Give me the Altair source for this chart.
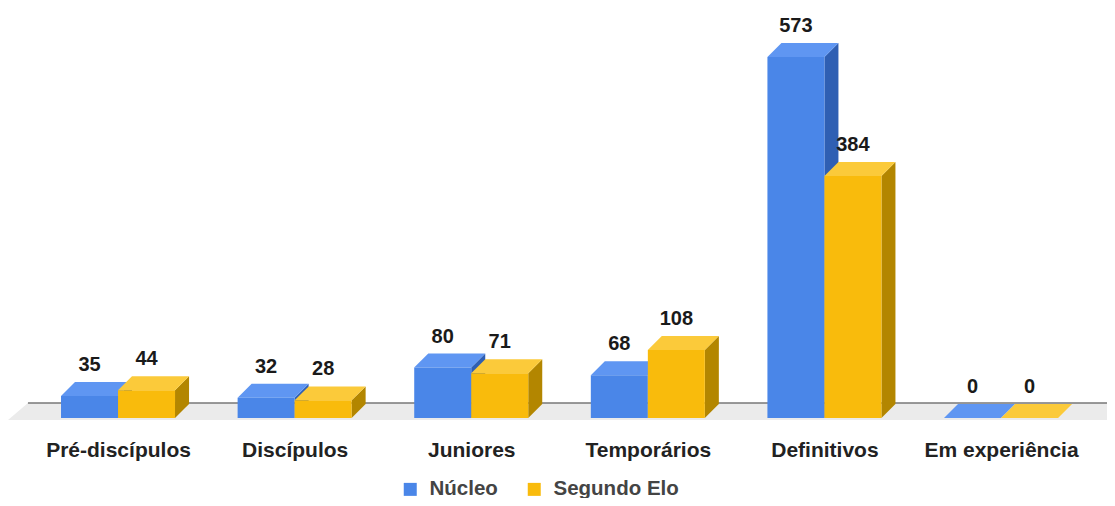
import json
import altair as alt
import pandas as pd

# ---------------- data ----------------
categories = ["Pré-discípulos", "Discípulos", "Juniores", "Temporários", "Definitivos", "Em experiência"]
series = ["Núcleo", "Segundo Elo"]
nucleo = [35, 32, 80, 68, 573, 0]
segundo = [44, 28, 71, 108, 384, 0]

# ---------------- style ----------------
FRONT = {"Núcleo": "#4a86e8", "Segundo Elo": "#f9bb0c"}
TOP = {"Núcleo": "#5f96f2", "Segundo Elo": "#fbca3a"}
SIDE = {"Núcleo": "#2f5fb3", "Segundo Elo": "#b38600"}
FONT = "Liberation Sans"

W, H = 1099, 425
X_DOMAIN = [-0.623, 5.600]
Y_DOMAIN = [-23.8, 650.8]
BAR_W = 0.3228      # width of a single bar (x units)
DX = 0.0793         # depth, horizontal (x units)
DY = 22.2           # depth, vertical (y units)

# ---------------- geometry built from data ----------------
front_rows, top_rows, side_rows = [], [], []
for s_idx, (sname, vals) in enumerate(zip(series, [nucleo, segundo])):
    for i, v in enumerate(vals):
        x0 = i - BAR_W if s_idx == 0 else i
        x1 = x0 + BAR_W
        bid = f"{sname}-{i}"
        front_rows.append({"series": sname, "cat": categories[i], "x0": x0, "x1": x1,
                           "xc": (x0 + x1) / 2, "v": v, "vt": v + DY, "zero": 0})
        for x, y, y2 in [(x0, v, v), (x0 + DX, v, v + DY), (x1, v, v + DY), (x1 + DX, v + DY, v + DY)]:
            top_rows.append({"series": sname, "bar": bid, "x": x, "y": y, "y2": y2})
        for x, y, y2 in [(x1, 0, v), (x1 + DX, DY, v + DY)]:
            side_rows.append({"series": sname, "bar": bid, "x": x, "y": y, "y2": y2})

front_df = pd.DataFrame(front_rows)
top_df = pd.DataFrame(top_rows)
side_df = pd.DataFrame(side_rows)

floor_df = pd.DataFrame({
    "x": [X_DOMAIN[0], X_DOMAIN[0] + 0.113, X_DOMAIN[1]],
    "y": [-3.2, -3.2, -3.2],
    "y2": [-3.2, 23.8, 23.8],
})
floor_line_df = pd.DataFrame({"x": [X_DOMAIN[0] + 0.113], "x2": [X_DOMAIN[1]], "y": [23.8]})

xs = alt.Scale(domain=X_DOMAIN, nice=False, zero=False)
ys = alt.Scale(domain=Y_DOMAIN, nice=False, zero=False)

label_expr = f"{json.dumps(categories, ensure_ascii=False)}[datum.value]"
x_axis = alt.Axis(values=list(range(len(categories))), labelExpr=label_expr, domain=False, ticks=False,
                  tickSize=0, grid=False, title=None, labelFont=FONT, labelFontSize=21,
                  labelFontWeight="bold", labelColor="#222222", labelPadding=6, labelBaseline="top")

floor = alt.Chart(floor_df).mark_area(color="#ebebeb", interpolate="linear").encode(
    x=alt.X("x:Q", scale=xs, axis=x_axis),
    y=alt.Y("y:Q", scale=ys, axis=None),
    y2="y2:Q",
)
floor_line = alt.Chart(floor_line_df).mark_rule(color="#777777", strokeWidth=1.5).encode(
    x=alt.X("x:Q", scale=xs), x2="x2:Q", y=alt.Y("y:Q", scale=ys)
)

layers = [floor, floor_line]
for sname in series:
    side = alt.Chart(side_df).transform_filter(alt.datum.series == sname).mark_area(
        interpolate="linear", color=SIDE[sname]
    ).encode(x=alt.X("x:Q", scale=xs), y=alt.Y("y:Q", scale=ys), y2="y2:Q", detail="bar:N")
    top = alt.Chart(top_df).transform_filter(alt.datum.series == sname).mark_area(
        interpolate="linear", color=TOP[sname]
    ).encode(x=alt.X("x:Q", scale=xs), y=alt.Y("y:Q", scale=ys), y2="y2:Q", detail="bar:N")
    front = alt.Chart(front_df).transform_filter(alt.datum.series == sname).mark_rect().encode(
        x=alt.X("x0:Q", scale=xs), x2="x1:Q",
        y=alt.Y("zero:Q", scale=ys), y2="v:Q",
        color=alt.Color("series:N",
                        scale=alt.Scale(domain=series, range=[FRONT[s] for s in series]),
                        legend=alt.Legend(title=None, orient="none", direction="horizontal",
                                          legendX=392, legendY=471, symbolType="square",
                                          symbolSize=169, symbolStrokeWidth=0,
                                          labelFont=FONT, labelFontSize=20.5, labelFontWeight="bold",
                                          labelColor="#444444", labelOffset=9, columnPadding=26,
                                          padding=0)),
    )
    layers += [side, top, front]

labels = alt.Chart(front_df).mark_text(font=FONT, fontSize=20, fontWeight="bold", color="#1a1a1a",
                                       baseline="alphabetic", dy=-11).encode(
    x=alt.X("xc:Q", scale=xs), y=alt.Y("vt:Q", scale=ys), text="v:Q"
)
layers.append(labels)

chart = alt.layer(*layers).properties(
    width=W, height=H,
    autosize=alt.AutoSizeParams(type="none"),
    padding={"left": 0, "top": 0, "right": 0, "bottom": 65},
).configure(background="white").configure_view(stroke=None)

chart.save("out.html", embed_options={"renderer": "svg", "actions": False})
